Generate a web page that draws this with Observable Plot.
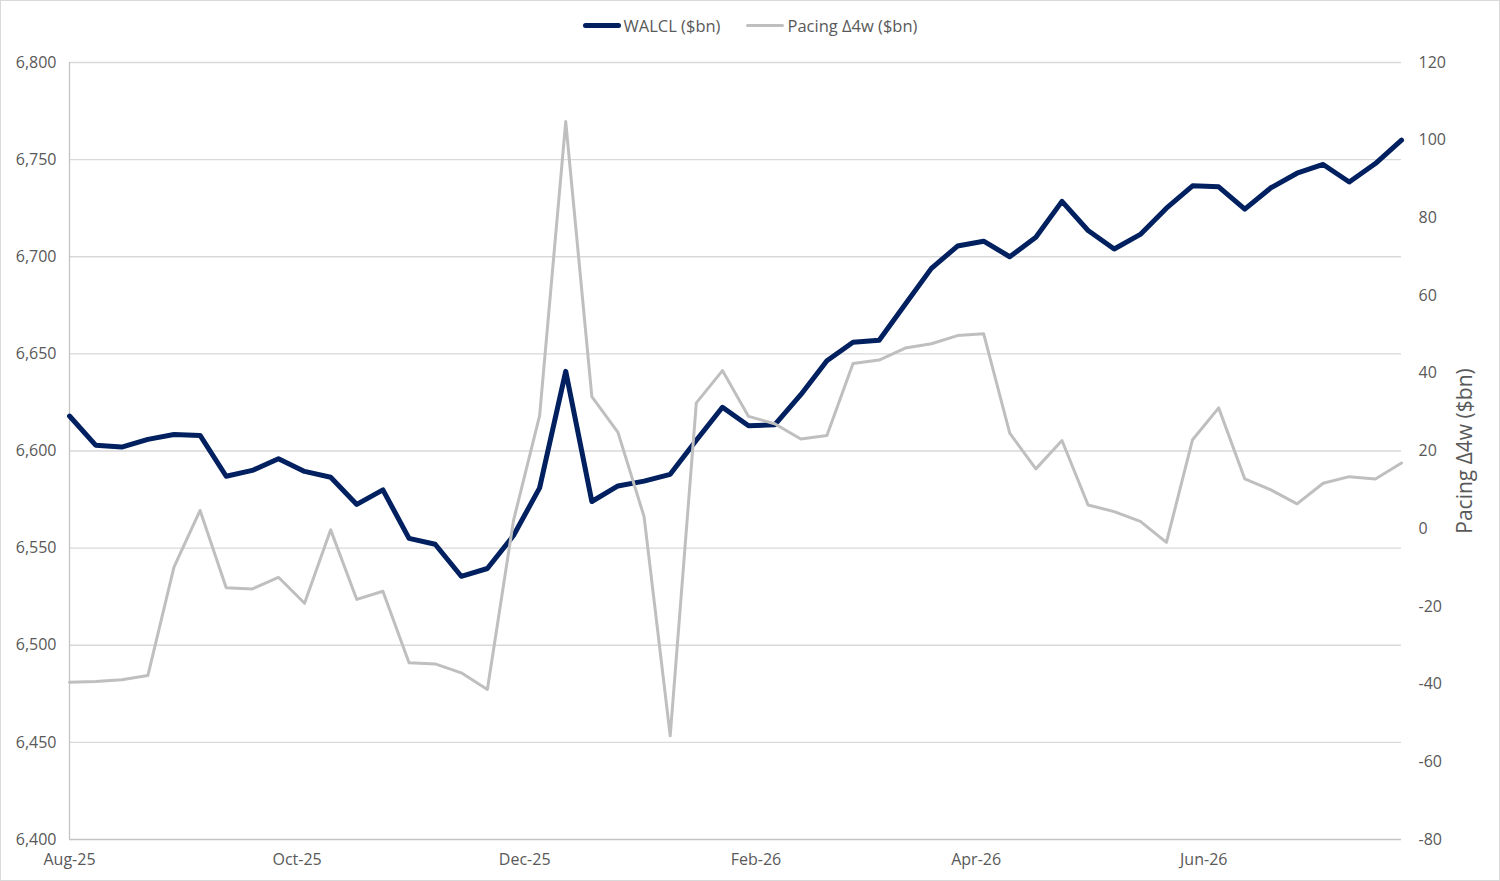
<!DOCTYPE html>
<html>
<head>
<meta charset="utf-8">
<script src="https://cdn.jsdelivr.net/npm/d3@7"></script>
<script src="https://cdn.jsdelivr.net/npm/@observablehq/plot@0.6"></script>
<style>
  html, body { margin: 0; padding: 0; background: #fff; }
  #wrap { width: 1500px; height: 881px; box-sizing: border-box; border: 1px solid #d9d9d9; background: #fff; font-family: "Open Sans", sans-serif; color: #595959; }
  #legend { height: 49px; display: flex; align-items: center; justify-content: center; font-size: 16.5px; }
  .item { display: flex; align-items: center; margin: 0 13px; }
  .swatch { width: 38px; border-radius: 3px; margin-right: 3px; }
  #chart svg { display: block; }
</style>
</head>
<body>
<div id="wrap">
  <div id="legend"></div>
  <div id="chart"></div>
</div>
<script>
// Weekly observations, first week starting 1 Aug 2025
const startDate = "2025-08-01";
const walcl = [
  6618, 6603, 6602, 6606, 6608.5, 6608, 6587, 6590, 6596, 6589.5,
  6586.5, 6572.5, 6580, 6555, 6552, 6535.5, 6539.5, 6556.5, 6581, 6641,
  6574, 6582, 6584.5, 6588, 6605.5, 6622.5, 6613, 6613.5, 6629, 6646.5,
  6656, 6657, 6675.5, 6694, 6705.5, 6708, 6700, 6710, 6728.5, 6713.5,
  6704, 6711.5, 6725, 6736.5, 6736, 6724.5, 6735.5, 6743, 6747.5, 6738.5,
  6748, 6760
];
const pacing = [
  -39.5, -39.3, -38.9, -37.8, -9.9, 4.7, -15.2, -15.5, -12.5, -19.2,
  -0.3, -18.2, -16.1, -34.5, -34.8, -37.1, -41.4, 2.1, 29.1, 104.8,
  34, 24.8, 3.1, -53.3, 32.4, 40.7, 28.9, 27, 23.1, 24,
  42.5, 43.4, 46.5, 47.6, 49.7, 50.2, 24.6, 15.4, 22.7, 6.1,
  4.4, 1.9, -3.5, 22.9, 31.1, 12.8, 10, 6.4, 11.7, 13.4,
  12.8, 16.9
];
const leftTicks = [6400, 6450, 6500, 6550, 6600, 6650, 6700, 6750, 6800];
const rightTicks = [-80, -60, -40, -20, 0, 20, 40, 60, 80, 100, 120];
const xTicks = ["2025-08-01", "2025-10-01", "2025-12-01", "2026-02-01", "2026-04-01", "2026-06-01"];
const seriesNames = ["WALCL ($bn)", "Pacing \u03944w ($bn)"];
const rightTitle = "Pacing \u03944w ($bn)";

const colors = { walcl: "#002060", pacing: "#bfbfbf" };

// map secondary axis values onto the primary scale
const L0 = leftTicks[0], L1 = leftTicks[leftTicks.length - 1];
const R0 = rightTicks[0], R1 = rightTicks[rightTicks.length - 1];
const toLeft = v => L0 + (v - R0) * (L1 - L0) / (R1 - R0);
const toRight = y => R0 + (y - L0) * (R1 - R0) / (L1 - L0);

const start = new Date(startDate + "T00:00:00Z");
const dates = walcl.map((_, i) => d3.utcDay.offset(start, 7 * i));
const walclData = walcl.map((v, i) => ({ date: dates[i], v }));
const pacingData = pacing.map((v, i) => ({ date: dates[i], v: toLeft(v) }));
const xTickDates = xTicks.map(s => new Date(s + "T00:00:00Z"));

// legend
const legend = document.getElementById("legend");
[[seriesNames[0], colors.walcl, 5], [seriesNames[1], colors.pacing, 3]].forEach(([name, c, h]) => {
  const it = document.createElement("div");
  it.className = "item";
  const sw = document.createElement("div");
  sw.className = "swatch";
  sw.style.background = c;
  sw.style.height = h + "px";
  const tx = document.createElement("span");
  tx.textContent = name;
  it.appendChild(sw); it.appendChild(tx);
  legend.appendChild(it);
});

const chart = Plot.plot({
  width: 1498,
  height: 830,
  marginLeft: 68,
  marginRight: 98,
  marginTop: 12,
  marginBottom: 41,
  style: { fontFamily: "'Open Sans', sans-serif", fontSize: "16px", color: "#595959", background: "#fff", overflow: "visible" },
  x: { type: "utc", domain: [dates[0], dates[dates.length - 1]] },
  y: { domain: [L0, L1] },
  marks: [
    Plot.ruleY(leftTicks.slice(1), { stroke: "#d9d9d9", strokeWidth: 1.3 }),
    Plot.ruleY([L0], { stroke: "#c4c4c4", strokeWidth: 1.3 }),
    Plot.ruleX([dates[0]], { stroke: "#c4c4c4", strokeWidth: 1.3 }),
    Plot.axisY(leftTicks, { anchor: "left", tickSize: 0, tickPadding: 13, tickFormat: d3.format(","), label: null, fill: "#595959" }),
    Plot.axisY(rightTicks.map(toLeft), { anchor: "right", tickSize: 0, tickPadding: 17, tickFormat: d => String(Math.round(toRight(d))), label: null, fill: "#595959" }),
    Plot.axisX(xTickDates, { anchor: "bottom", tickSize: 0, tickPadding: 14, tickFormat: d3.utcFormat("%b-%y"), label: null, fill: "#595959" }),
    Plot.text([rightTitle], { frameAnchor: "right", rotate: -90, dx: 64, textAnchor: "middle", lineAnchor: "middle", fontSize: 21, fill: "#595959" }),
    Plot.line(walclData, { x: "date", y: "v", stroke: colors.walcl, strokeWidth: 5, strokeLinejoin: "round", strokeLinecap: "round" }),
    Plot.line(pacingData, { x: "date", y: "v", stroke: colors.pacing, strokeWidth: 3, strokeLinejoin: "round", strokeLinecap: "round" })
  ]
});
document.getElementById("chart").appendChild(chart);
</script>
</body>
</html>
